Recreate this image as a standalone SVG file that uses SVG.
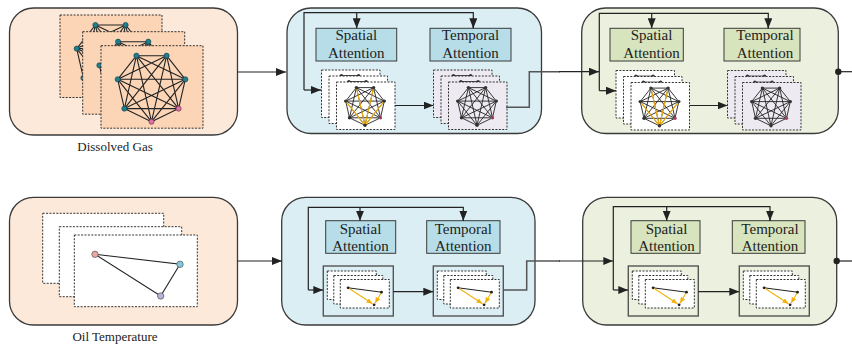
<svg xmlns="http://www.w3.org/2000/svg" xmlns:xlink="http://www.w3.org/1999/xlink" width="852" height="346" viewBox="0 0 852 346">
<style>
.panel{stroke:#3a3a3a;stroke-width:1.3}
.pe{fill:#FDE9D9}
.pb{fill:#DBEEF4}
.pg{fill:#EBF1DE}
.bb{fill:#B7DEE8;stroke:#3a3a3a;stroke-width:1}
.bg{fill:#D7E4BD;stroke:#3a3a3a;stroke-width:1}
.fr{stroke:#333;stroke-width:1;stroke-dasharray:2,1.4}
.t{font-family:"Liberation Serif","Times New Roman",serif;font-size:15px;fill:#222;text-anchor:middle}
.lbl{font-family:"Liberation Serif","Times New Roman",serif;font-size:13px;fill:#222;text-anchor:middle}
.c{fill:none;stroke:#222;stroke-width:1.2}
.cg{fill:none;stroke:#555;stroke-width:1.5}
.e{fill:none;stroke:#222;stroke-width:1.1}
.es{fill:none;stroke:#222;stroke-width:0.9}
.or{fill:none;stroke:#F2B10C;stroke-width:1.1}
.sb{fill:none;stroke:#555;stroke-width:1.4}
</style>
<defs>
<marker id="ah" markerUnits="userSpaceOnUse" markerWidth="10" markerHeight="8" refX="10" refY="4" orient="auto"><path d="M0,0L10,4L0,8z" fill="#222"/></marker>
<marker id="oh" markerUnits="userSpaceOnUse" markerWidth="6" markerHeight="5" refX="6" refY="2.5" orient="auto"><path d="M0,0L6,2.5L0,5z" fill="#F2B10C"/></marker>
<path id="k7" d="M0,34.7L-27.1,21.6M0,34.7L-33.8,-7.7M0,34.7L-15.1,-31.3M0,34.7L15.1,-31.3M0,34.7L33.8,-7.7M0,34.7L27.1,21.6M-27.1,21.6L-33.8,-7.7M-27.1,21.6L-15.1,-31.3M-27.1,21.6L15.1,-31.3M-27.1,21.6L33.8,-7.7M-27.1,21.6L27.1,21.6M-33.8,-7.7L-15.1,-31.3M-33.8,-7.7L15.1,-31.3M-33.8,-7.7L33.8,-7.7M-33.8,-7.7L27.1,21.6M-15.1,-31.3L15.1,-31.3M-15.1,-31.3L33.8,-7.7M-15.1,-31.3L27.1,21.6M15.1,-31.3L33.8,-7.7M15.1,-31.3L27.1,21.6M33.8,-7.7L27.1,21.6"/>
<g id="bigG">
<use xlink:href="#k7" class="e"/>
<g fill="#1F7F8F" stroke="#1a3a40" stroke-width="0.6">
<circle cx="-27.1" cy="21.6" r="2.6"/><circle cx="-33.8" cy="-7.7" r="2.6"/><circle cx="-15.1" cy="-31.3" r="2.6"/><circle cx="15.1" cy="-31.3" r="2.6"/><circle cx="33.8" cy="-7.7" r="2.6"/>
</g>
<g fill="#E070A8" stroke="#5a2a40" stroke-width="0.6"><circle cx="0" cy="34.7" r="2.6"/><circle cx="27.1" cy="21.6" r="2.6"/></g>
</g>
<path id="k7s" d="M0,19.8L-15.5,12.3M0,19.8L-19.3,-4.4M0,19.8L-8.6,-17.9M0,19.8L8.6,-17.9M0,19.8L19.3,-4.4M0,19.8L15.5,12.3M-15.5,12.3L-19.3,-4.4M-15.5,12.3L-8.6,-17.9M-15.5,12.3L8.6,-17.9M-15.5,12.3L19.3,-4.4M-15.5,12.3L15.5,12.3M-19.3,-4.4L-8.6,-17.9M-19.3,-4.4L8.6,-17.9M-19.3,-4.4L19.3,-4.4M-19.3,-4.4L15.5,12.3M-8.6,-17.9L8.6,-17.9M-8.6,-17.9L19.3,-4.4M-8.6,-17.9L15.5,12.3M8.6,-17.9L19.3,-4.4M8.6,-17.9L15.5,12.3M19.3,-4.4L15.5,12.3"/>
<g id="smallNodes" fill="#333">
<circle cx="0" cy="19.8" r="1.7"/><circle cx="-15.5" cy="12.3" r="1.7"/><circle cx="-19.3" cy="-4.4" r="1.7"/><circle cx="-8.6" cy="-17.9" r="1.7"/><circle cx="8.6" cy="-17.9" r="1.7"/><circle cx="19.3" cy="-4.4" r="1.7"/><circle cx="15.5" cy="12.3" r="1.7" fill="#A0405A"/>
</g>
<g id="smallS">
<use xlink:href="#k7s" class="es"/>
<path class="or" d="M0,19.8L-19.3,-4.4M0,19.8L-8.6,-17.9M0,19.8L8.6,-17.9M0,19.8L19.3,-4.4"/>
<use xlink:href="#smallNodes"/>
</g>
<g id="smallT">
<use xlink:href="#k7s" class="es"/>
<use xlink:href="#smallNodes"/>
</g>
<g id="stackS">
<rect class="fr" x="0" y="0" width="58.5" height="47.5" fill="#fff"/>
<use xlink:href="#smallS" transform="translate(28.5,23.5)"/>
<rect class="fr" x="7.5" y="6" width="58.5" height="47.5" fill="#fff"/>
<use xlink:href="#smallS" transform="translate(36,29.5)"/>
<rect class="fr" x="15" y="12" width="58.5" height="47.5" fill="#fff"/>
<use xlink:href="#smallS" transform="translate(43.5,35.5)"/>
</g>
<g id="stackT">
<rect class="fr" x="0" y="0" width="58.5" height="47.5" fill="#EEEAF1"/>
<use xlink:href="#smallT" transform="translate(28.5,23.5)"/>
<rect class="fr" x="7.5" y="6" width="58.5" height="47.5" fill="#EEEAF1"/>
<use xlink:href="#smallT" transform="translate(36,29.5)"/>
<rect class="fr" x="15" y="12" width="58.5" height="47.5" fill="#EEEAF1"/>
<use xlink:href="#smallT" transform="translate(43.5,35.5)"/>
</g>
<g id="stackB">
<rect class="sb" x="0" y="0" width="70" height="50"/>
<rect class="fr" x="4" y="5" width="49" height="28.5" fill="#fff"/>
<rect class="fr" x="10.5" y="9.5" width="49" height="28.5" fill="#fff"/>
<rect class="fr" x="17" y="13.5" width="49" height="28.5" fill="#fff"/>
<path d="M24.8,21.8L58.2,26.2" stroke="#222" stroke-width="1"/>
<path class="or" d="M24.8,21.8L49.2,37.8" marker-end="url(#oh)"/>
<path class="or" d="M58.2,26.2L51.7,37.3" marker-end="url(#oh)"/>
<circle cx="24.8" cy="21.8" r="1.4" fill="#222"/><circle cx="58.2" cy="26.2" r="1.4" fill="#222"/><circle cx="50.8" cy="38.8" r="1.4" fill="#222"/>
</g>
</defs>

<!-- Top row -->
<g id="gas-input">
<rect class="panel pe" x="9.5" y="8" width="228" height="127" rx="24"/>
<rect class="fr" x="60" y="15" width="102" height="82.5" fill="#FBD5B6"/>
<use xlink:href="#bigG" transform="translate(110.5,56.3)"/>
<rect class="fr" x="82.7" y="31.7" width="102" height="82.5" fill="#FBD5B6"/>
<use xlink:href="#bigG" transform="translate(133.2,73)"/>
<rect class="fr" x="101" y="45.7" width="102" height="82.5" fill="#FBD5B6"/>
<use xlink:href="#bigG" transform="translate(151.5,87)"/>
<text class="lbl" x="115" y="151">Dissolved Gas</text>
</g>

<g id="gas-block1">
<rect class="panel pb" x="287" y="8" width="254.5" height="125.5" rx="24"/>
<rect class="bb" x="316" y="28.3" width="80.7" height="32.7"/>
<text class="t" x="356.3" y="39.5">Spatial</text><text class="t" x="356.3" y="57.5">Attention</text>
<rect class="bb" x="430" y="28.3" width="81" height="32.7"/>
<text class="t" x="470.5" y="39.5">Temporal</text><text class="t" x="470.5" y="57.5">Attention</text>
<use xlink:href="#stackS" transform="translate(321.5,70)"/>
<use xlink:href="#stackT" transform="translate(433.5,70)"/>
</g>

<g id="gas-block2">
<rect class="panel pg" x="581.7" y="8" width="256.6" height="125.5" rx="24"/>
<rect class="bg" x="610" y="28.3" width="73.3" height="32.7"/>
<text class="t" x="651.5" y="39.5">Spatial</text><text class="t" x="651.5" y="57.5">Attention</text>
<rect class="bg" x="724" y="28.3" width="76" height="32.7"/>
<text class="t" x="765" y="39.5">Temporal</text><text class="t" x="765" y="57.5">Attention</text>
<use xlink:href="#stackS" transform="translate(616,70.5)"/>
<use xlink:href="#stackT" transform="translate(727.5,70.5)"/>
</g>

<!-- Bottom row -->
<g id="oil-input">
<rect class="panel pe" x="9.5" y="197.3" width="228" height="127.7" rx="24"/>
<rect class="fr" x="42.7" y="213.3" width="121" height="70" fill="#fff"/>
<rect class="fr" x="59.3" y="226.7" width="122.4" height="70" fill="#fff"/>
<rect class="fr" x="74.3" y="235" width="123" height="71.7" fill="#fff"/>
<path d="M95,254.3L180,264.3L160.7,296Z" fill="none" stroke="#222" stroke-width="1.1"/>
<circle cx="95" cy="254.3" r="3.2" fill="#E9A9A0" stroke="#555" stroke-width="0.7"/>
<circle cx="180" cy="264.3" r="3.2" fill="#7FCBDB" stroke="#555" stroke-width="0.7"/>
<circle cx="160.7" cy="296" r="3.2" fill="#B8B2D4" stroke="#555" stroke-width="0.7"/>
<text class="lbl" x="115" y="341">Oil Temperature</text>
</g>

<g id="oil-block1">
<rect class="panel pb" x="281.7" y="197.3" width="253.3" height="127.7" rx="24"/>
<rect class="bb" x="325.7" y="220.7" width="70" height="32.6"/>
<text class="t" x="360.5" y="233.5">Spatial</text><text class="t" x="360.5" y="251">Attention</text>
<rect class="bb" x="426.7" y="220.7" width="73.3" height="32.6"/>
<text class="t" x="463.3" y="233.5">Temporal</text><text class="t" x="463.3" y="251">Attention</text>
<use xlink:href="#stackB" transform="translate(323.3,266)"/>
<use xlink:href="#stackB" transform="translate(433.3,266)"/>
</g>

<g id="oil-block2">
<rect class="panel pg" x="582.7" y="197.3" width="254" height="127.7" rx="24"/>
<rect class="bg" x="631" y="220.7" width="69" height="32.6"/>
<text class="t" x="666.5" y="233.5">Spatial</text><text class="t" x="666.5" y="251">Attention</text>
<rect class="bg" x="732.3" y="220.7" width="72.7" height="32.6"/>
<text class="t" x="770" y="233.5">Temporal</text><text class="t" x="770" y="251">Attention</text>
<use xlink:href="#stackB" transform="translate(628.3,266)"/>
<use xlink:href="#stackB" transform="translate(739.3,266)"/>
</g>

<g id="connectors">
<!-- top row -->
<path class="c" d="M237.5,72H286" marker-end="url(#ah)"/>
<path class="c" d="M304,90V12.7H473.3V28.3"/>
<path class="c" d="M473.3,20V28.3" marker-end="url(#ah)"/>
<path class="c" d="M356.7,12.7V28.3" marker-end="url(#ah)"/>
<path class="c" d="M304,90H321" marker-end="url(#ah)"/>
<path class="c" d="M395,105.5H433.5" marker-end="url(#ah)"/>
<path class="cg" d="M506,107.3H529.3V71.7H560"/>
<path class="c" d="M559,71.7H599" marker-end="url(#ah)"/>
<path class="c" d="M599.3,90.7V13.3H768.3V28.3"/>
<path class="c" d="M768.3,20V28.3" marker-end="url(#ah)"/>
<path class="c" d="M651.7,13.3V28.3" marker-end="url(#ah)"/>
<path class="c" d="M599.3,90.7H616" marker-end="url(#ah)"/>
<path class="c" d="M689.5,105.5H727.5" marker-end="url(#ah)"/>
<path class="c" d="M838.3,71.7H852"/>
<circle cx="838.3" cy="71.7" r="3.2" fill="#222"/>
<!-- bottom row -->
<path class="c" d="M237.5,261H282" marker-end="url(#ah)"/>
<path class="c" d="M308.3,290V207.3H463.3V220.7"/>
<path class="c" d="M463.3,212V220.7" marker-end="url(#ah)"/>
<path class="c" d="M360,207.3V220.7" marker-end="url(#ah)"/>
<path class="c" d="M308.3,290H323.3" marker-end="url(#ah)"/>
<path class="c" d="M393.3,291.7H433.3" marker-end="url(#ah)"/>
<path class="cg" d="M503.3,290H526.7V261H560"/>
<path class="c" d="M559,261H613.3" marker-end="url(#ah)"/>
<path class="c" d="M613.3,290V206.7H770V220.7"/>
<path class="c" d="M770,212V220.7" marker-end="url(#ah)"/>
<path class="c" d="M666.7,206.7V220.7" marker-end="url(#ah)"/>
<path class="c" d="M613.3,290H628.3" marker-end="url(#ah)"/>
<path class="c" d="M698.3,291.7H739.3" marker-end="url(#ah)"/>
<path class="c" d="M836.7,261H852"/>
<circle cx="836.7" cy="261" r="3.2" fill="#222"/>
</g>
</svg>
